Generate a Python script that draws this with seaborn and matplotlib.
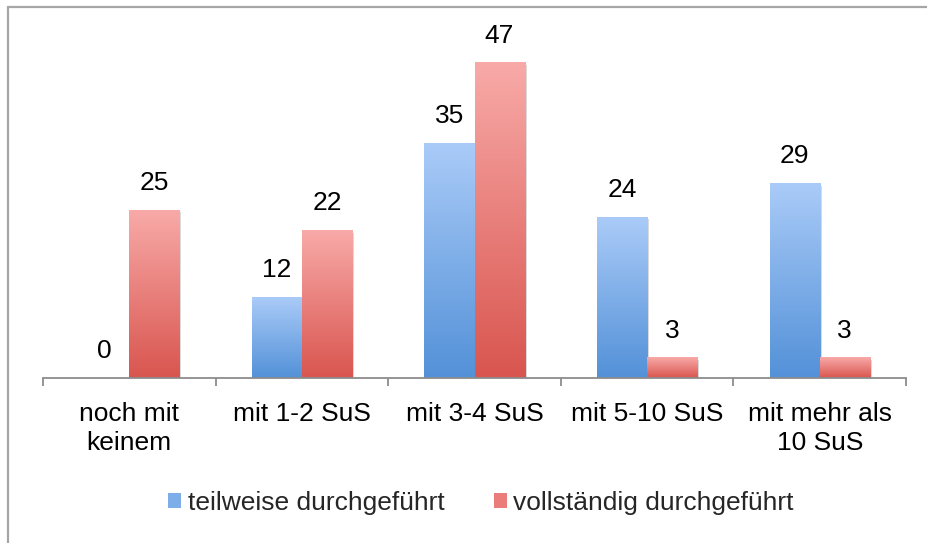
import numpy as np
import pandas as pd
import matplotlib.pyplot as plt
import matplotlib.patheffects as pe
import seaborn as sns
from matplotlib.colors import LinearSegmentedColormap
from matplotlib.lines import Line2D
from matplotlib.patches import Patch

# ── DATA ──────────────────────────────────────────────────────────────────────
categories = ["noch mit\nkeinem", "mit 1-2 SuS", "mit 3-4 SuS", "mit 5-10 SuS", "mit mehr als\n10 SuS"]
teilweise = [0, 12, 35, 24, 29]
vollstaendig = [25, 22, 47, 3, 3]
series = ["teilweise durchgeführt", "vollständig durchgeführt"]
# ─────────────────────────────────────────────────────────────────────────────

df = pd.DataFrame({
    "Kategorie": categories * 2,
    "Anzahl": teilweise + vollstaendig,
    "Serie": [series[0]] * len(categories) + [series[1]] * len(categories),
})

sns.set_theme(style="white")
plt.rcParams["font.family"] = ["Liberation Sans", "DejaVu Sans"]

top_cols = {series[0]: "#aacbf8", series[1]: "#f8aaa8"}
bottom_cols = {series[0]: "#5391d8", series[1]: "#d9554f"}
mid_cols = {series[0]: "#7eaeea", series[1]: "#ea7d79"}
FS = 19

fig = plt.figure(figsize=(9.28, 5.43), dpi=100)
ax = fig.add_axes([43 / 928, 1 - 378 / 543, (906 - 43) / 928, (378 - 20) / 543])

sns.barplot(data=df, x="Kategorie", y="Anzahl", hue="Serie", palette=mid_cols,
            width=0.58, saturation=1, legend=False, ax=ax)

# gradient fill + soft shadow on every bar
for cont, name in zip(ax.containers, series):
    cmap = LinearSegmentedColormap.from_list(name, [bottom_cols[name], top_cols[name]])
    grad = np.linspace(0, 1, 256).reshape(-1, 1)
    for bar in cont:
        h = bar.get_height()
        if h <= 0:
            continue
        bar.set_path_effects([pe.SimplePatchShadow(offset=(1.5, -1.5), shadow_rgbFace="#000000", alpha=0.18),
                              pe.Normal()])
        x0 = bar.get_x()
        ax.imshow(grad, extent=[x0, x0 + bar.get_width(), 0, h], origin="lower",
                  aspect="auto", cmap=cmap, zorder=bar.get_zorder() + 0.1)
    ax.bar_label(cont, padding=11, fontsize=FS, color="black")

ax.set_xlim(-0.5, len(categories) - 0.5)
ax.set_ylim(0, 53.4)
ax.set_yticks([])
ax.set_xlabel("")
ax.set_ylabel("")
for s in ["left", "right", "top"]:
    ax.spines[s].set_visible(False)
ax.spines["bottom"].set_color("#8c8c8c")
ax.spines["bottom"].set_linewidth(1.3)

ax.set_xticks(np.arange(-0.5, len(categories), 1), minor=True)
ax.tick_params(axis="x", which="major", length=0, pad=17, labelsize=FS, labelcolor="black")
ax.tick_params(axis="x", which="minor", bottom=True, length=6, width=1.3, color="#8c8c8c")
for lbl in ax.get_xticklabels():
    lbl.set_linespacing(1.3)

handles = [Patch(facecolor=mid_cols[s], edgecolor="none") for s in series]
fig.legend(handles, series, loc="center", bbox_to_anchor=(481 / 928, 1 - 503 / 543), ncol=2,
           frameon=False, fontsize=FS, handlelength=0.5, handleheight=0.5,
           handletextpad=0.25, columnspacing=1.85)

# outer frame (only left and top edges visible)
fig.add_artist(Line2D([8 / 928, 8 / 928], [0, 1 - 7 / 543], transform=fig.transFigure,
                      color="#a6a6a6", lw=1.6))
fig.add_artist(Line2D([8 / 928, 1], [1 - 7 / 543, 1 - 7 / 543], transform=fig.transFigure,
                      color="#a6a6a6", lw=1.6))

fig.savefig("out.png", dpi=100)
